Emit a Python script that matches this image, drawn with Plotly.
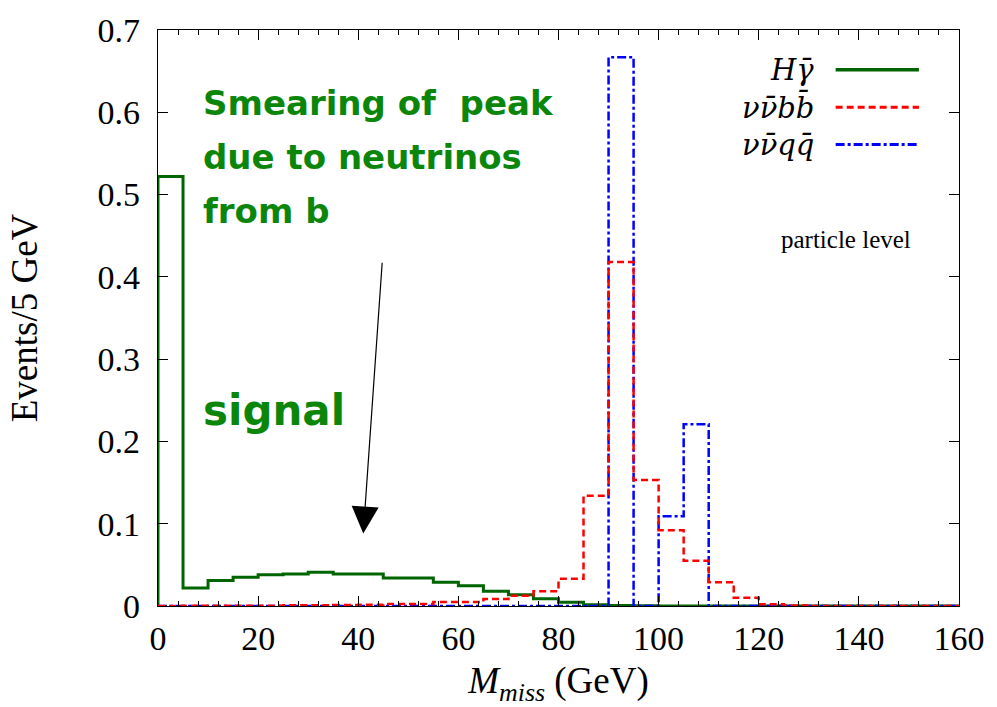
import plotly.graph_objects as go

# ---- data (5 GeV bins, 0-160 GeV) ----
bin_lo = list(range(0, 160, 5))
h_gamma = [0.522, 0.022, 0.031, 0.035, 0.038, 0.039, 0.041, 0.039, 0.039, 0.034,
           0.034, 0.029, 0.0245, 0.018, 0.0136, 0.0088, 0.0046, 0.0016, 0.0005, 0.0003,
           0, 0, 0, 0, 0, 0, 0, 0, 0, 0, 0, 0]
nunu_bb = [0, 0.0002, 0.0002, 0.0002, 0.0003, 0.001, 0.001, 0.0012, 0.0015, 0.0024,
           0.0024, 0.005, 0.005, 0.0085, 0.0124, 0.018, 0.033, 0.134, 0.418, 0.153,
           0.092, 0.055, 0.029, 0.010, 0.002, 0.0006, 0, 0, 0, 0, 0, 0]
nunu_qq = [0, 0, 0, 0, 0, 0, 0, 0, 0, 0,
           0, 0, 0, 0, 0, 0, 0, 0, 0.667, 0,
           0.109, 0.221, 0, 0, 0, 0, 0, 0, 0, 0, 0, 0]
series_names = ["<i>Hγ̄</i>", "<i>νν̄bb̄</i>", "<i>νν̄qq̄</i>"]
series_colors = ["#006400", "#ff0000", "#0000ff"]
series_dash = ["solid", "7px,4px", "9px,3px,3px,3px"]
x_ticks = [0, 20, 40, 60, 80, 100, 120, 140, 160]
y_ticks = [0, 0.1, 0.2, 0.3, 0.4, 0.5, 0.6, 0.7]

serif = "Liberation Serif"
fig = go.Figure()

def step(vals):
    xs = [bin_lo[0]] + bin_lo + [bin_lo[-1] + 5]
    ys = [0] + list(vals) + [vals[-1]]
    return xs, ys

order = [0, 2, 1]
all_vals = [h_gamma, nunu_bb, nunu_qq]
widths = [3, 2.5, 2.5]
for i in order:
    xs, ys = step(all_vals[i])
    fig.add_trace(go.Scatter(x=xs, y=ys, mode="lines", line_shape="hv",
                             line=dict(color=series_colors[i], width=widths[i], dash=series_dash[i]),
                             showlegend=False, hoverinfo="skip"))

# manual legend (text right-aligned, sample on right)
leg_y = [0.931, 0.866, 0.801]
for i in range(3):
    fig.add_annotation(xref="paper", yref="paper", x=0.822, y=leg_y[i], text=series_names[i],
                       showarrow=False, xanchor="right", yanchor="middle",
                       font=dict(family="DejaVu Serif", size=29, color="black"))
    fig.add_shape(type="line", xref="paper", yref="paper", x0=0.846, x1=0.950,
                  y0=leg_y[i], y1=leg_y[i],
                  line=dict(color=series_colors[i], width=widths[i] + 0.5, dash=series_dash[i]))

fig.add_annotation(x=137.5, y=0.445, text="particle level", showarrow=False,
                   font=dict(family=serif, size=25, color="black"))

green_txt = "#0b860b"
txt_font = dict(family="DejaVu Sans", size=34, color=green_txt)
for t, yv in [("<b>Smearing of\u00a0 peak</b>", 0.611), ("<b>due to neutrinos</b>", 0.546),
              ("<b>from b</b>", 0.480)]:
    fig.add_annotation(x=8.6, y=yv, text=t, showarrow=False, xanchor="left", yanchor="middle",
                       font=txt_font)
fig.add_annotation(x=8.6, y=0.238, text="<b>signal</b>", showarrow=False, xanchor="left",
                   yanchor="middle", font=dict(family="DejaVu Sans", size=42, color=green_txt))

fig.add_annotation(x=41.0, y=0.088, ax=44.8, ay=0.419, axref="x", ayref="y", text="",
                   showarrow=True, arrowhead=2, arrowsize=4.5, arrowwidth=1.2, arrowcolor="black")

axis_common = dict(showline=True, linecolor="black", linewidth=1.2, mirror="allticks",
                   ticks="inside", tickcolor="black", showgrid=False, zeroline=False,
                   tickfont=dict(family=serif, size=34, color="black"))
fig.update_xaxes(range=[0, 160], tickvals=x_ticks, ticklen=10, ticklabelstandoff=2,
                 minor=dict(dtick=4, ticks="inside", ticklen=5, tickcolor="black", showgrid=False),
                 title=dict(text="<i>M<sub>miss</sub></i> (GeV)",
                            font=dict(family=serif, size=37, color="black"), standoff=12),
                 **axis_common)
fig.update_yaxes(range=[0, 0.7], tickvals=y_ticks, ticktext=[str(v) if v else "0" for v in y_ticks],
                 ticklen=10, ticklabelstandoff=10,
                 title=dict(text="Events/5 GeV", font=dict(family=serif, size=37, color="black"),
                            standoff=48),
                 **axis_common)
fig.update_layout(width=997, height=707, plot_bgcolor="white", paper_bgcolor="white",
                  margin=dict(l=158, r=35, t=24, b=100), showlegend=False)
fig.write_html("out.html")
